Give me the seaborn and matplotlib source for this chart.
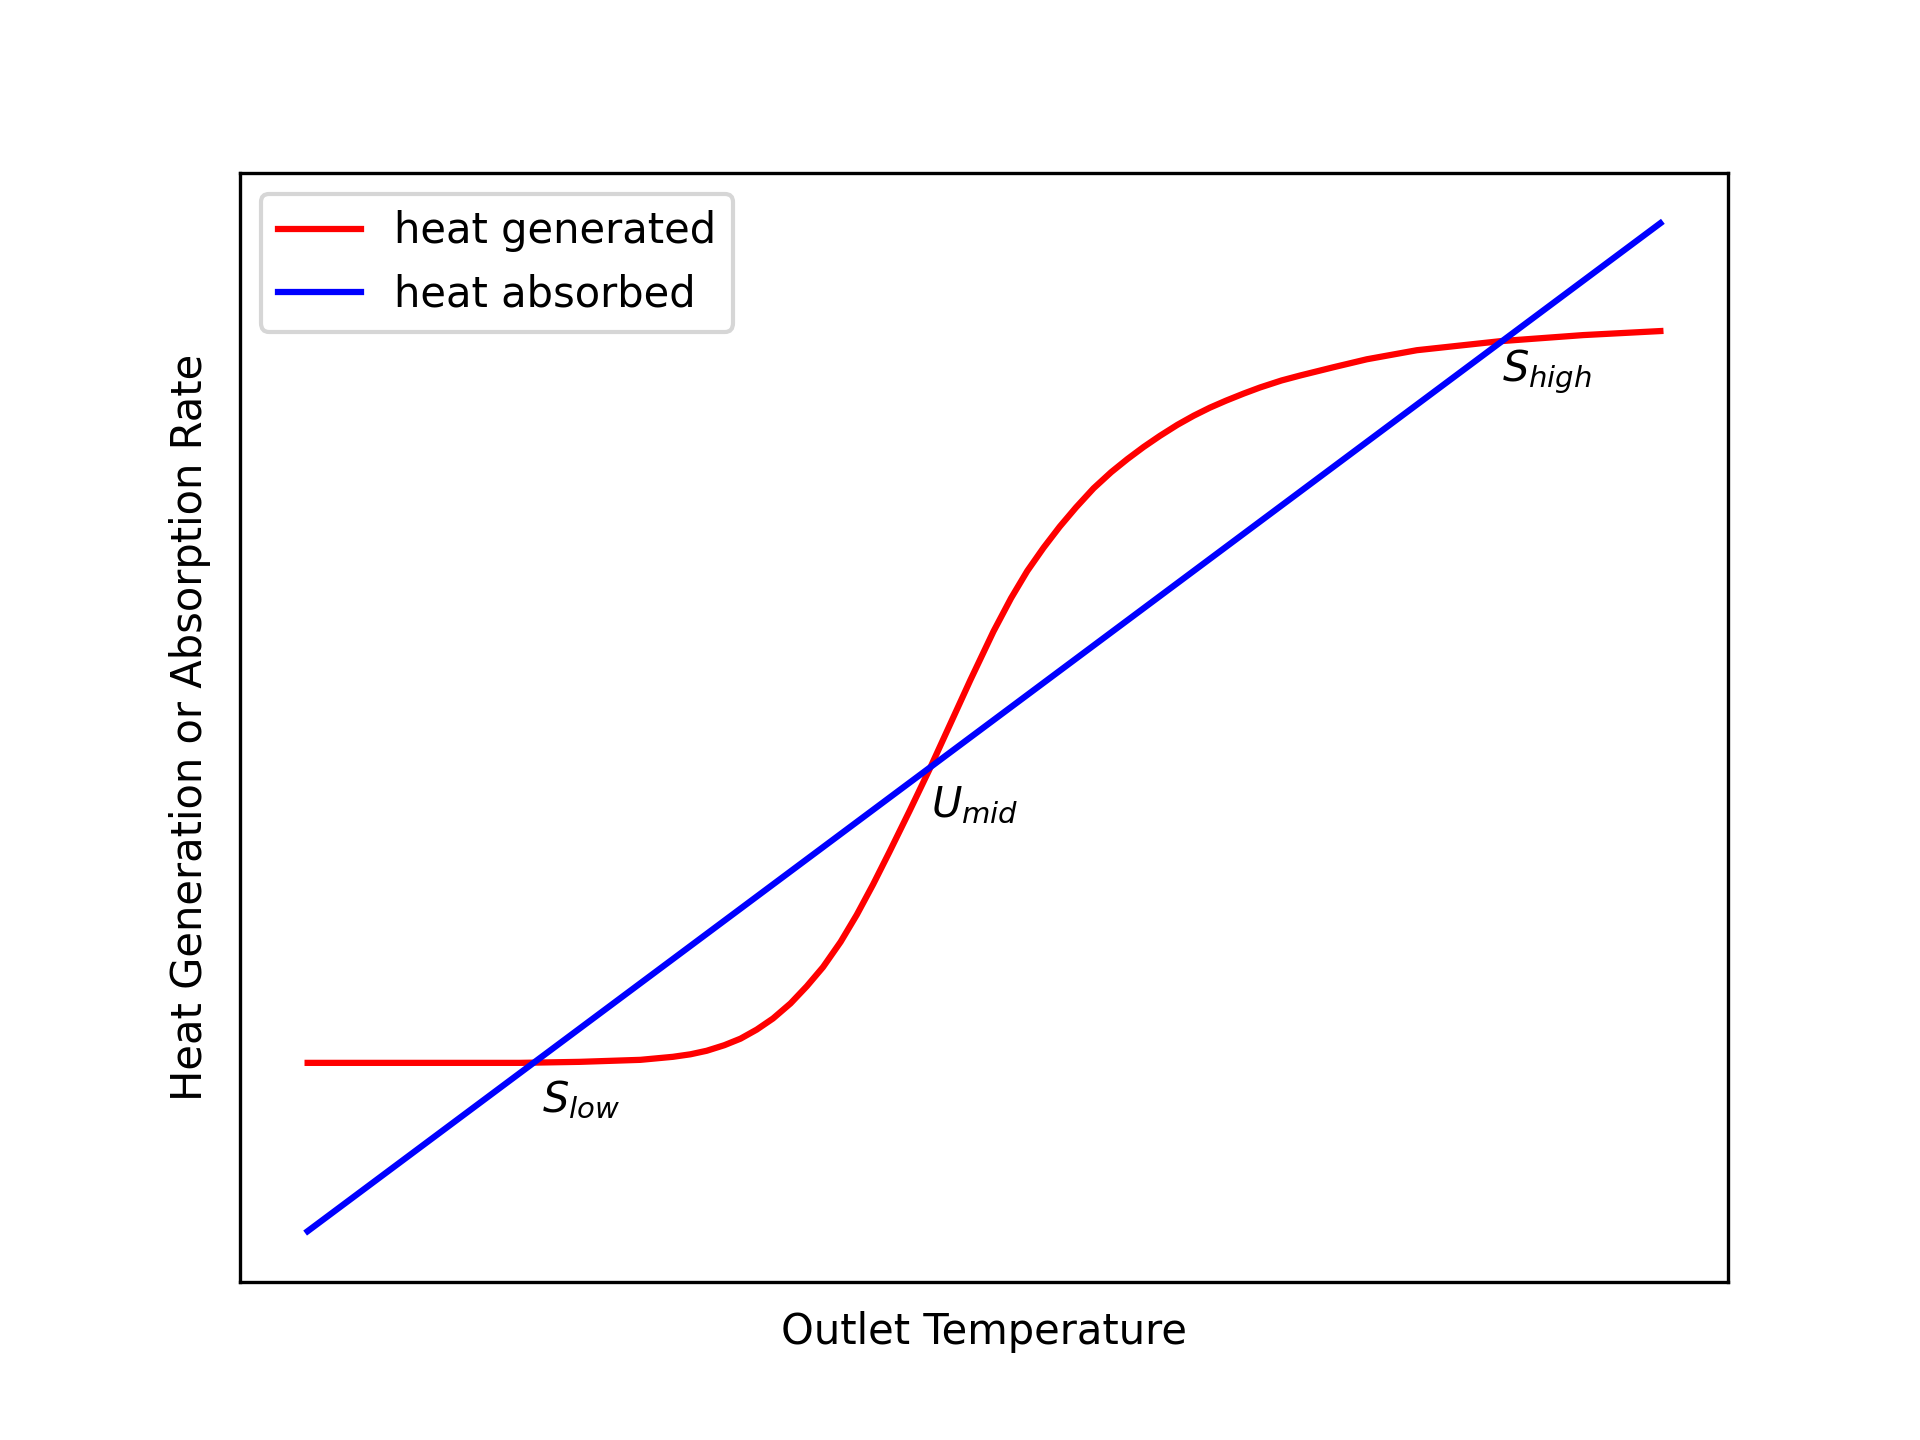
import matplotlib
matplotlib.use("Agg")
import matplotlib.pyplot as plt
import seaborn as sns
import pandas as pd

# Heat generated (S-shaped curve)
gen_x = [0.00, 1.05, 1.57, 2.01, 2.46, 2.70, 2.83, 2.95, 3.08, 3.20, 3.32, 3.44,
         3.57, 3.69, 3.81, 3.94, 4.06, 4.18, 4.30, 4.45, 4.60, 4.75, 4.90, 5.07,
         5.20, 5.32, 5.44, 5.56, 5.68, 5.81, 5.94, 6.06, 6.18, 6.30, 6.43, 6.55,
         6.67, 6.79, 6.92, 7.04, 7.20, 7.34, 7.58, 7.83, 8.20, 8.82, 9.43, 10.00]
gen_y = [1.67, 1.67, 1.67, 1.68, 1.70, 1.73, 1.755, 1.79, 1.845, 1.91, 2.00, 2.11,
         2.26, 2.43, 2.62, 2.87, 3.14, 3.44, 3.76, 4.17, 4.59, 5.03, 5.47, 5.95,
         6.28, 6.55, 6.78, 6.99, 7.18, 7.37, 7.53, 7.66, 7.78, 7.89, 8.00, 8.09,
         8.17, 8.24, 8.31, 8.37, 8.44, 8.49, 8.57, 8.65, 8.74, 8.83, 8.89, 8.93]

# Heat absorbed (straight line)
abs_x = [0.0, 10.0]
abs_y = [0.0, 10.0]

# Steady-state labels
point_labels = [r"$S_{low}$", r"$U_{mid}$", r"$S_{high}$"]
label_x = [1.73, 4.61, 8.83]
label_y = [1.18, 4.11, 8.43]

fig, ax = plt.subplots(figsize=(6.4, 4.8), dpi=300)

df_gen = pd.DataFrame({"T": gen_x, "Q": gen_y})
df_abs = pd.DataFrame({"T": abs_x, "Q": abs_y})

sns.lineplot(data=df_gen, x="T", y="Q", color="red", linewidth=1.5,
             label="heat generated", ax=ax, sort=False)
sns.lineplot(data=df_abs, x="T", y="Q", color="blue", linewidth=1.5,
             label="heat absorbed", ax=ax, sort=False)

for lab, tx, ty in zip(point_labels, label_x, label_y):
    ax.text(tx, ty, lab, fontsize=10)

ax.set_xticks([])
ax.set_yticks([])
ax.set_xlabel("Outlet Temperature", labelpad=7)
ax.set_ylabel("Heat Generation or Absorption Rate", labelpad=7)
ax.legend(loc="upper left")

fig.savefig("out.png", dpi=300)
